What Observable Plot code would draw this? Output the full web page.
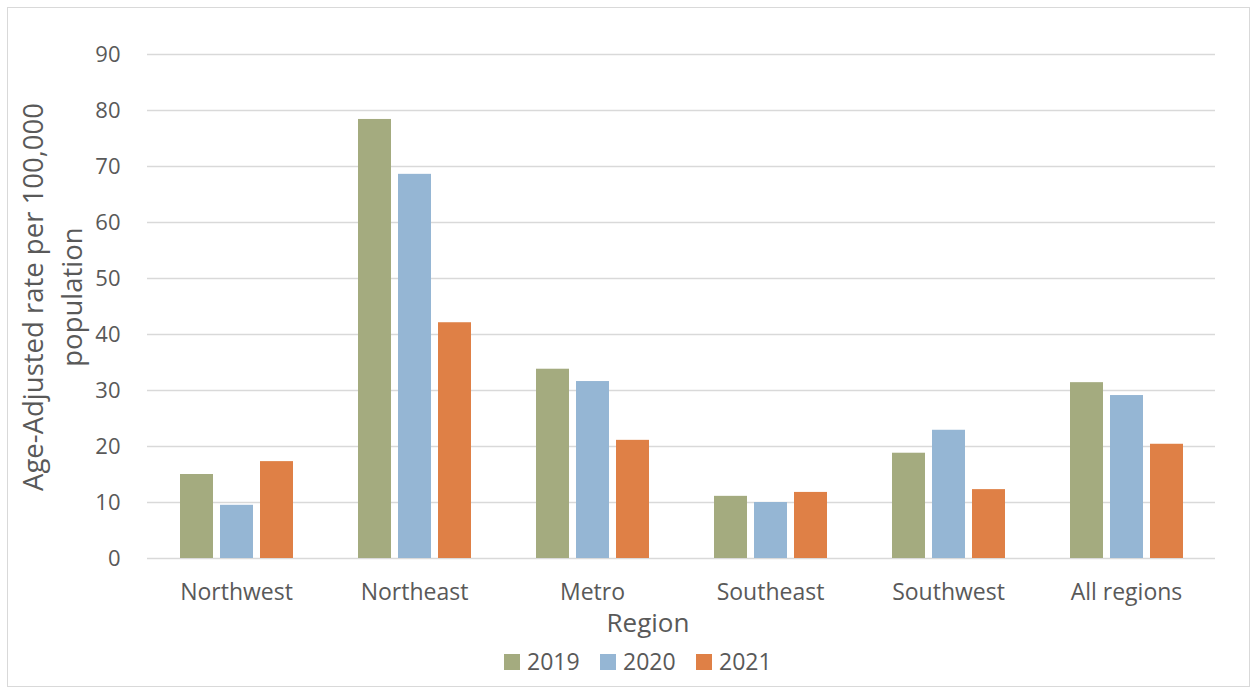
<!DOCTYPE html>
<html>
<head>
<meta charset="utf-8">
<script src="https://cdn.jsdelivr.net/npm/d3@7"></script>
<script src="https://cdn.jsdelivr.net/npm/@observablehq/plot@0.6"></script>
<style>
  html, body { margin: 0; padding: 0; background: #fff; }
  body { width: 1253px; height: 689px; position: relative; overflow: hidden; font-family: "Open Sans", sans-serif; }
  #frame { position: absolute; left: 7px; top: 7px; width: 1243px; height: 680px; border: 1px solid #d9d9d9; box-sizing: border-box; }
  #chart { position: absolute; left: 0; top: 0; }
  #legend { position: absolute; left: 0; top: 0; width: 1253px; height: 689px; pointer-events: none; }
  #legend .sw { position: absolute; width: 16px; height: 16px; top: 654px; }
  #legend .lb { position: absolute; top: 647px; font-size: 23px; line-height: 28px; color: #595959; }
</style>
</head>
<body>
<div id="frame"></div>
<div id="chart"></div>
<div id="legend"></div>
<script>
const regions = ["Northwest", "Northeast", "Metro", "Southeast", "Southwest", "All regions"];
const years = ["2019", "2020", "2021"];
const colors = ["#a4ab7f", "#95b6d4", "#df8046"];
const values2019 = [15.0, 78.4, 33.8, 11.1, 18.8, 31.4];
const values2020 = [9.5, 68.6, 31.6, 10.0, 22.9, 29.1];
const values2021 = [17.3, 42.1, 21.1, 11.8, 12.3, 20.4];
const yTicks = [0, 10, 20, 30, 40, 50, 60, 70, 80, 90];
const yLabel = ["Age-Adjusted rate per 100,000", "population"];
const xLabel = "Region";

const series = [values2019, values2020, values2021];
const data = [];
regions.forEach((r, i) => years.forEach((y, j) => data.push({region: r, year: y, value: series[j][i]})));

const FONT = "'Open Sans', sans-serif";
const chart = Plot.plot({
  width: 1253,
  height: 640,
  marginLeft: 147,
  marginRight: 38,
  marginTop: 54,
  marginBottom: 82,
  style: {fontFamily: FONT, color: "#595959", background: "transparent"},
  fx: {domain: regions, padding: 0, label: null},
  x: {domain: years, paddingInner: 0.175, paddingOuter: 0.8125, axis: null},
  y: {domain: [0, 90], ticks: yTicks, label: null},
  color: {domain: years, range: colors},
  marks: [
    Plot.ruleY(yTicks, {stroke: "#d9d9d9", strokeWidth: 1.5}),
    Plot.barY(data, {fx: "region", x: "year", y: "value", fill: "year"}),
    Plot.axisY(yTicks, {tickSize: 0, tickPadding: 27, fontSize: 22, fill: "#595959", label: null}),
    Plot.axisFx({anchor: "bottom", tickSize: 0, tickPadding: 25, fontSize: 23, fill: "#595959", label: null})
  ]
});
document.getElementById("chart").appendChild(chart);

const svg = d3.select(chart);
svg.append("text")
  .attr("x", 648).attr("y", 632)
  .attr("text-anchor", "middle")
  .attr("font-size", 26)
  .attr("fill", "#595959")
  .attr("font-family", FONT)
  .text(xLabel);

svg.append("text")
  .attr("transform", "translate(0,297) rotate(-90)")
  .attr("text-anchor", "middle")
  .attr("font-size", 27.5)
  .attr("fill", "#595959")
  .attr("font-family", FONT)
  .selectAll("tspan")
  .data(yLabel)
  .join("tspan")
  .attr("x", 0)
  .attr("y", (d, i) => i === 0 ? 43 : 82)
  .text(d => d);

const legend = document.getElementById("legend");
const swX = [504, 600, 696];
years.forEach((y, i) => {
  const sw = document.createElement("div");
  sw.className = "sw";
  sw.style.left = swX[i] + "px";
  sw.style.background = colors[i];
  legend.appendChild(sw);
  const lb = document.createElement("div");
  lb.className = "lb";
  lb.style.left = (swX[i] + 23) + "px";
  lb.textContent = y;
  legend.appendChild(lb);
});
</script>
</body>
</html>
